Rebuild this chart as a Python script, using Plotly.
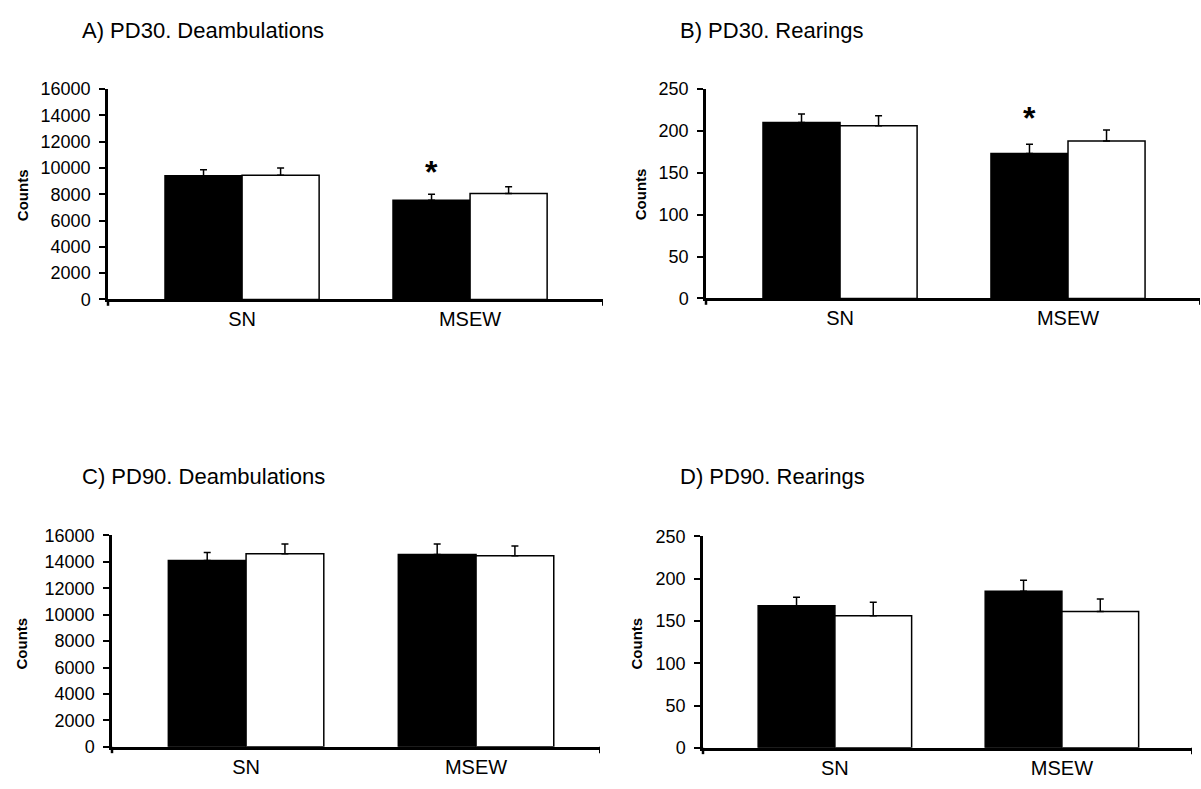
import plotly.graph_objects as go

categories = ["SN", "MSEW"]

titles = ["A) PD30. Deambulations", "B) PD30. Rearings",
          "C) PD90. Deambulations", "D) PD90. Rearings"]

# panel A
a_black = [9400, 7550]
a_black_err = [450, 450]
a_white = [9450, 8050]
a_white_err = [550, 520]
# panel B
b_black = [210, 173]
b_black_err = [10, 11]
b_white = [206, 188]
b_white_err = [12, 13]
# panel C
c_black = [14100, 14550]
c_black_err = [600, 800]
c_white = [14600, 14450]
c_white_err = [750, 750]
# panel D
d_black = [168, 185]
d_black_err = [10, 13]
d_white = [156, 161]
d_white_err = [16, 15]

y_max = [16000, 250, 16000, 250]
y_dtick = [2000, 50, 2000, 50]
star_panels = [0, 1]
star_y = [9700, 215]

W, H = 1201, 789
FONT = "Arial, Liberation Sans, sans-serif"

# pixel geometry: (x_left, x_right, y_top, y_bottom)
geom = [(108, 603, 81, 297), (706, 1200, 81, 296),
        (112, 600, 539, 756), (703, 1192, 540, 757)]
xranges = [(-0.588, 1.583), (-0.588, 1.579), (-0.583, 1.539), (-0.581, 1.573)]
counts_pos = [(22, 190), (640, 189), (22, 650), (637, 650)]
title_pos = [(80, 21), (678, 21), (80, 479), (678, 479)]

panels = [(a_black, a_black_err, a_white, a_white_err),
          (b_black, b_black_err, b_white, b_white_err),
          (c_black, c_black_err, c_white, c_white_err),
          (d_black, d_black_err, d_white, d_white_err)]

fig = go.Figure()
annotations = []
shapes = []
for i, (bk, bke, wh, whe) in enumerate(panels):
    xa = "x" if i == 0 else f"x{i+1}"
    ya = "y" if i == 0 else f"y{i+1}"
    for vals, errs, col in [(bk, bke, "black"), (wh, whe, "white")]:
        fig.add_trace(go.Bar(
            x=categories, y=vals, xaxis=xa, yaxis=ya,
            marker=dict(color=col, line=dict(color="black", width=1.5)),
            error_y=dict(type="data", array=errs, arrayminus=[0] * len(errs),
                         symmetric=False, color="black", thickness=1.5, width=3.5),
            showlegend=False, hoverinfo="skip"))
    x0, x1, yt, yb = geom[i]
    dom_x = [x0 / W, x1 / W]
    dom_y = [1 - yb / H, 1 - yt / H]
    suffix = "" if i == 0 else str(i + 1)
    fig.update_layout(**{
        f"xaxis{suffix}": dict(domain=dom_x, anchor=ya, type="category",
                               range=list(xranges[i]), showline=True,
                               linecolor="black", linewidth=3, ticks="",
                               tickfont=dict(family=FONT, size=20, color="black"),
                               showgrid=False, zeroline=False, fixedrange=True),
        f"yaxis{suffix}": dict(domain=dom_y, anchor=xa, range=[0, y_max[i]],
                               dtick=y_dtick[i], tickformat="d", showline=True,
                               linecolor="black", linewidth=2.5, ticks="outside",
                               ticklen=6, tickwidth=2, tickcolor="black",
                               tickfont=dict(family=FONT, size=18, color="black"),
                               ticklabelstandoff=5,
                               showgrid=False, zeroline=False, fixedrange=True),
    })
    tx, ty = title_pos[i]
    annotations.append(dict(text=titles[i], xref="paper", yref="paper",
                            x=tx / W, y=1 - ty / H, xanchor="left", yanchor="middle",
                            showarrow=False,
                            font=dict(family=FONT, size=22, color="black")))
    cx, cy = counts_pos[i]
    annotations.append(dict(text="<b>Counts</b>", xref="paper", yref="paper",
                            x=cx / W, y=1 - cy / H, xanchor="center", yanchor="middle",
                            textangle=-90, showarrow=False,
                            font=dict(family=FONT, size=15, color="black")))
    shapes.append(dict(type="line", xref=xa, yref=f"{ya} domain",
                       x0=xranges[i][1], x1=xranges[i][1], y0=0, y1=-0.03,
                       line=dict(color="black", width=2)))
    shapes.append(dict(type="line", xref="paper", yref=f"{ya} domain",
                       x0=x0 / W, x1=x0 / W, y0=0, y1=-0.03,
                       line=dict(color="black", width=2.5)))

for k, p in enumerate(star_panels):
    xa = "x" if p == 0 else f"x{p+1}"
    ya = "y" if p == 0 else f"y{p+1}"
    annotations.append(dict(text="<b>*</b>", xref=xa, yref=ya, x=0.831, y=star_y[k],
                            xanchor="center", yanchor="middle", showarrow=False,
                            font=dict(family=FONT, size=32, color="black")))

fig.update_layout(width=W, height=H, margin=dict(l=0, r=0, t=0, b=0),
                  paper_bgcolor="white", plot_bgcolor="white",
                  barmode="group", bargap=0.324, bargroupgap=0,
                  annotations=annotations, shapes=shapes)

fig.write_html("out.html", config={"displayModeBar": False},
               post_script="document.body.style.margin='0';document.body.style.overflow='hidden';")
